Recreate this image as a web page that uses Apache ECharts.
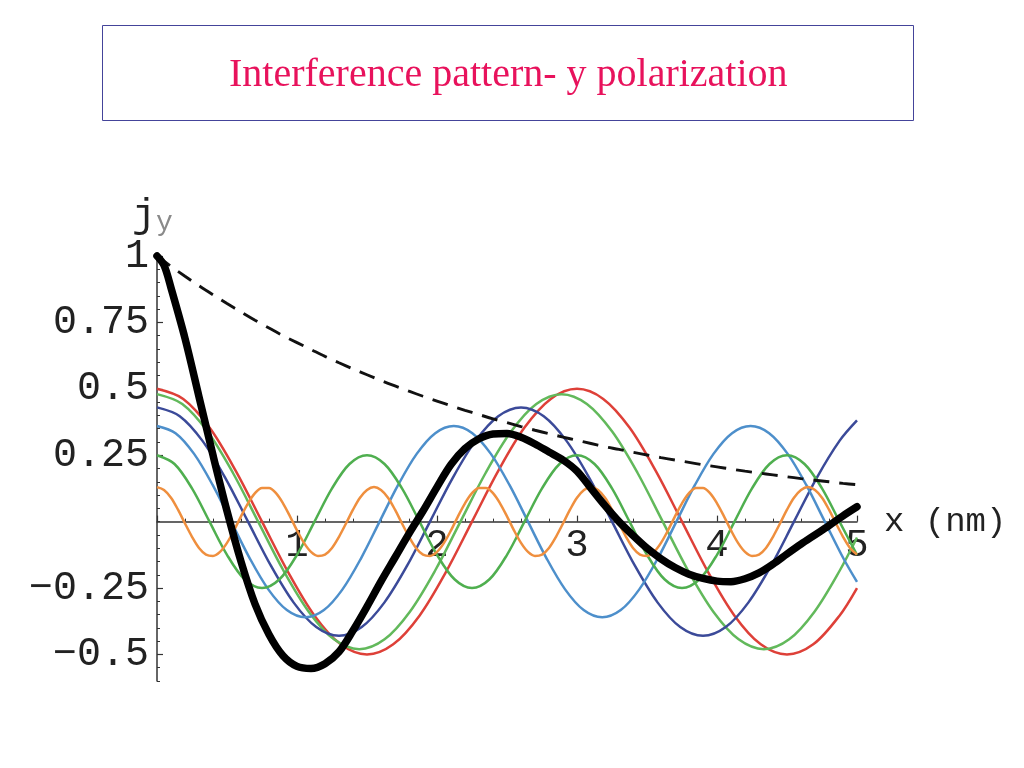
<!DOCTYPE html>
<html>
<head>
<meta charset="utf-8">
<script src="https://cdn.jsdelivr.net/npm/echarts@6/dist/echarts.min.js"></script>
<style>
html,body{margin:0;padding:0;background:#fff;}
#chart{width:1024px;height:768px;}
</style>
</head>
<body>
<div id="chart"></div>
<script>
// ---- data ----
const titleText = 'Interference pattern- y polarization';
const xAxisName = 'x (nm)';
const yTickLabels = [1, 0.75, 0.5, 0.25, -0.25, -0.5];
const yMinorTicks = [-0.6,-0.55,-0.5,-0.45,-0.4,-0.35,-0.3,-0.25,-0.2,-0.15,-0.1,-0.05,0,0.05,0.1,0.15,0.2,0.25,0.3,0.35,0.4,0.45,0.5,0.55,0.6,0.65,0.7,0.75,0.8,0.85,0.9,0.95,1];
const xTickLabels = [1, 2, 3, 4, 5];

// red curve (amplitude 0.5)
const redX = [0,0.1875,0.375,0.5625,0.75,0.9375,1.125,1.3125,1.5,1.6875,1.875,2.0625,2.25,2.4375,2.625,2.8125,3,3.1875,3.375,3.5625,3.75,3.9375,4.125,4.3125,4.5,4.6875,4.875,5];
const redY = [0.5,0.462,0.354,0.191,0,-0.191,-0.354,-0.462,-0.5,-0.462,-0.354,-0.191,0,0.191,0.354,0.462,0.5,0.462,0.354,0.191,0,-0.191,-0.354,-0.462,-0.5,-0.462,-0.354,-0.25];

// green curve (amplitude 0.48)
const greenBigX = [0,0.1806,0.3613,0.5419,0.7225,0.9031,1.0838,1.2644,1.445,1.6256,1.8063,1.9869,2.1675,2.3481,2.5288,2.7094,2.89,3.0706,3.2513,3.4319,3.6125,3.7931,3.9738,4.1544,4.335,4.5156,4.6963,4.8769,5];
const greenBigY = [0.48,0.443,0.339,0.184,0,-0.184,-0.339,-0.443,-0.48,-0.443,-0.339,-0.184,0,0.184,0.339,0.443,0.48,0.443,0.339,0.184,0,-0.184,-0.339,-0.443,-0.48,-0.443,-0.339,-0.184,-0.06];

// navy curve (amplitude 0.43)
const navyX = [0,0.1625,0.325,0.4875,0.65,0.8125,0.975,1.1375,1.3,1.4625,1.625,1.7875,1.95,2.1125,2.275,2.4375,2.6,2.7625,2.925,3.0875,3.25,3.4125,3.575,3.7375,3.9,4.0625,4.225,4.3875,4.55,4.7125,4.875,5];
const navyY = [0.43,0.397,0.304,0.165,0,-0.165,-0.304,-0.397,-0.43,-0.397,-0.304,-0.165,0,0.165,0.304,0.397,0.43,0.397,0.304,0.165,0,-0.165,-0.304,-0.397,-0.43,-0.397,-0.304,-0.165,0,0.165,0.304,0.381];

// light blue curve (amplitude 0.36)
const blueX = [0,0.1325,0.265,0.3975,0.53,0.6625,0.795,0.9275,1.06,1.1925,1.325,1.4575,1.59,1.7225,1.855,1.9875,2.12,2.2525,2.385,2.5175,2.65,2.7825,2.915,3.0475,3.18,3.3125,3.445,3.5775,3.71,3.8425,3.975,4.1075,4.24,4.3725,4.505,4.6375,4.77,4.9025,5];
const blueY = [0.36,0.333,0.255,0.138,0,-0.138,-0.255,-0.333,-0.36,-0.333,-0.255,-0.138,0,0.138,0.255,0.333,0.36,0.333,0.255,0.138,0,-0.138,-0.255,-0.333,-0.36,-0.333,-0.255,-0.138,0,0.138,0.255,0.333,0.36,0.333,0.255,0.138,0,-0.138,-0.227];

// light green curve (amplitude 0.25)
const greenSmallX = [0,0.125,0.25,0.375,0.5,0.625,0.75,0.875,1,1.125,1.25,1.375,1.5,1.625,1.75,1.875,2,2.125,2.25,2.375,2.5,2.625,2.75,2.875,3,3.125,3.25,3.375,3.5,3.625,3.75,3.875,4,4.125,4.25,4.375,4.5,4.625,4.75,4.875,5];
const greenSmallY = [0.25,0.217,0.125,0,-0.125,-0.217,-0.25,-0.217,-0.125,0,0.125,0.217,0.25,0.217,0.125,0,-0.125,-0.217,-0.25,-0.217,-0.125,0,0.125,0.217,0.25,0.217,0.125,0,-0.125,-0.217,-0.25,-0.217,-0.125,0,0.125,0.217,0.25,0.217,0.125,0,-0.125];

// orange curve (amplitude 0.13)
const orangeX = [0,0.05,0.1,0.15,0.2,0.25,0.3,0.35,0.4,0.45,0.5,0.55,0.6,0.65,0.7,0.75,0.8,0.85,0.9,0.95,1,1.05,1.1,1.15,1.2,1.25,1.3,1.35,1.4,1.45,1.5,1.55,1.6,1.65,1.7,1.75,1.8,1.85,1.9,1.95,2,2.05,2.1,2.15,2.2,2.25,2.3,2.35,2.4,2.45,2.5,2.55,2.6,2.65,2.7,2.75,2.8,2.85,2.9,2.95,3,3.05,3.1,3.15,3.2,3.25,3.3,3.35,3.4,3.45,3.5,3.55,3.6,3.65,3.7,3.75,3.8,3.85,3.9,3.95,4,4.05,4.1,4.15,4.2,4.25,4.3,4.35,4.4,4.45,4.5,4.55,4.6,4.65,4.7,4.75,4.8,4.85,4.9,4.95,5];
const orangeY = [0.130,0.119,0.090,0.045,-0.007,-0.057,-0.099,-0.124,-0.129,-0.114,-0.080,-0.033,0.020,0.069,0.107,0.127,0.127,0.107,0.069,0.020,-0.033,-0.080,-0.114,-0.129,-0.124,-0.099,-0.057,-0.007,0.045,0.090,0.119,
  0.130,0.119,0.090,0.045,-0.007,-0.057,-0.099,-0.124,-0.129,-0.114,-0.080,-0.033,0.020,0.069,0.107,0.127,0.127,0.107,0.069,0.020,-0.033,-0.080,-0.114,-0.129,-0.124,-0.099,-0.057,-0.007,0.045,0.090,0.119,
  0.130,0.119,0.090,0.045,-0.007,-0.057,-0.099,-0.124,-0.129,-0.114,-0.080,-0.033,0.020,0.069,0.107,0.127,0.127,0.107,0.069,0.020,-0.033,-0.080,-0.114,-0.129,-0.124,-0.099,-0.057,-0.007,0.045,0.090,0.119,
  0.130,0.119,0.090,0.045,-0.007,-0.057,-0.099,-0.124];

// dashed envelope
const envelopeX = [0,0.1,0.2,0.3,0.4,0.5,0.6,0.7,0.8,0.9,1,1.1,1.2,1.3,1.4,1.5,1.6,1.7,1.8,1.9,2,2.1,2.2,2.3,2.4,2.5,2.6,2.7,2.8,2.9,3,3.1,3.2,3.3,3.4,3.5,3.6,3.7,3.8,3.9,4,4.1,4.2,4.3,4.4,4.5,4.6,4.7,4.8,4.9,5];
const envelopeY = [1.000,0.961,0.924,0.888,0.854,0.821,0.789,0.758,0.729,0.700,0.674,
  0.648,0.622,0.598,0.575,0.553,0.531,0.511,0.491,0.472,0.454,
  0.436,0.419,0.403,0.387,0.373,0.358,0.344,0.331,0.318,0.306,
  0.294,0.282,0.272,0.261,0.251,0.241,0.232,0.223,0.214,0.206,
  0.198,0.190,0.183,0.176,0.169,0.162,0.156,0.150,0.144,0.139];

// thick black total j_y
const totalX = [0,0.05,0.1,0.2,0.3,0.4,0.5,0.6,0.7,0.8,0.9,1,1.1,1.2,1.3,1.4,1.5,1.6,1.7,1.8,1.9,2,2.1,2.2,2.3,2.4,2.5,2.6,2.7,2.8,2.9,3,3.1,3.2,3.3,3.4,3.5,3.6,3.7,3.8,3.9,4,4.1,4.2,4.3,4.4,4.5,4.6,4.7,4.8,4.9,5];
const totalY = [1.0,0.965,0.88,0.69,0.47,0.25,0.04,-0.15,-0.31,-0.425,-0.505,-0.545,
  -0.553,-0.535,-0.49,-0.41,-0.32,-0.225,-0.135,-0.045,0.04,0.13,
  0.215,0.275,0.312,0.33,0.332,0.318,0.292,0.262,0.232,0.19,
  0.125,0.06,0.0,-0.052,-0.10,-0.14,-0.173,-0.198,-0.214,-0.224,
  -0.226,-0.215,-0.193,-0.16,-0.122,-0.085,-0.05,-0.015,0.022,0.056];

// ---- chart ----
const MONO = '"Liberation Mono", "Courier New", monospace';
const pairs = (xs, ys) => xs.map((x, i) => [x, ys[i]]);
const fmt = v => String(v).replace('-', '\u2212');

function thin(name, xs, ys, color) {
  return {
    name: name, type: 'line', data: pairs(xs, ys),
    showSymbol: false, smooth: 0.33, clip: false, silent: true,
    lineStyle: { color: color, width: 2.5 }
  };
}

const chart = echarts.init(document.getElementById('chart'), null, { renderer: 'canvas' });
chart.setOption({
  animation: false,
  backgroundColor: '#ffffff',
  title: {
    text: titleText, left: 229, top: 55, padding: 0,
    textStyle: { fontFamily: '"Liberation Serif", "Times New Roman", serif', fontSize: 40, fontWeight: 'normal', color: '#e8125c' }
  },
  graphic: [{
    type: 'rect', silent: true,
    shape: { x: 102.5, y: 25.5, width: 811, height: 95 },
    style: { fill: 'none', stroke: '#44449a', lineWidth: 1 }
  }],
  grid: { left: 157, right: 167, top: 256, bottom: 87, containLabel: false },
  xAxis: [{
    type: 'value', min: 0, max: 5, interval: 1,
    name: xAxisName, nameLocation: 'end', nameGap: 27,
    nameTextStyle: { fontFamily: MONO, fontSize: 34, color: '#222', verticalAlign: 'middle' },
    axisLine: { show: true, onZero: true, lineStyle: { color: '#333', width: 1.5 } },
    axisTick: { show: true, inside: true, length: 6, lineStyle: { color: '#333', width: 1.2 } },
    minorTick: { show: true, splitNumber: 5, length: 3, lineStyle: { color: '#333', width: 1 } },
    splitLine: { show: false },
    axisLabel: { customValues: xTickLabels, margin: -155, fontFamily: MONO, fontSize: 39, color: '#222', formatter: fmt }
  }],
  yAxis: [{
    type: 'value', min: -0.6, max: 1, position: 'left',
    name: '{j|j}{s|y}', nameLocation: 'end', nameGap: 19,
    nameTextStyle: {
      align: 'center', padding: [0, 9, 0, 0],
      rich: {
        j: { fontFamily: MONO, fontSize: 40, color: '#222' },
        s: { fontFamily: MONO, fontSize: 28, color: '#8a8a8a', padding: [12, 0, 0, 0] }
      }
    },
    axisLine: { show: true, onZero: false, lineStyle: { color: '#333', width: 1.5 } },
    axisTick: { show: true, inside: true, length: 6, customValues: yTickLabels, lineStyle: { color: '#333', width: 1.2 } },
    splitLine: { show: false },
    axisLabel: { customValues: yTickLabels, margin: 8, fontFamily: MONO, fontSize: 40, color: '#222', formatter: fmt }
  }, {
    type: 'value', min: -0.6, max: 1, interval: 0.05, position: 'left', offset: 0,
    axisLine: { show: false, onZero: false },
    axisTick: { show: true, inside: true, length: 3, customValues: yMinorTicks, lineStyle: { color: '#333', width: 1 } },
    axisLabel: { show: false },
    splitLine: { show: false }
  }],
  series: [
    thin('A 0.50', redX, redY, '#de4038'),
    thin('A 0.48', greenBigX, greenBigY, '#62b95b'),
    thin('A 0.43', navyX, navyY, '#3b4a99'),
    thin('A 0.36', blueX, blueY, '#4d8fcb'),
    thin('A 0.25', greenSmallX, greenSmallY, '#4faf4f'),
    thin('A 0.13', orangeX, orangeY, '#ef8f3e'),
    {
      name: 'envelope', type: 'line', data: pairs(envelopeX, envelopeY),
      showSymbol: false, smooth: 0.33, clip: false, silent: true,
      lineStyle: { color: '#111', width: 2.9, type: [16, 10] }
    },
    {
      name: 'j_y', type: 'line', data: pairs(totalX, totalY),
      showSymbol: false, smooth: 0.33, clip: false, silent: true,
      lineStyle: { color: '#000', width: 7.5, cap: 'round', join: 'round' }
    }
  ]
});
</script>
</body>
</html>
